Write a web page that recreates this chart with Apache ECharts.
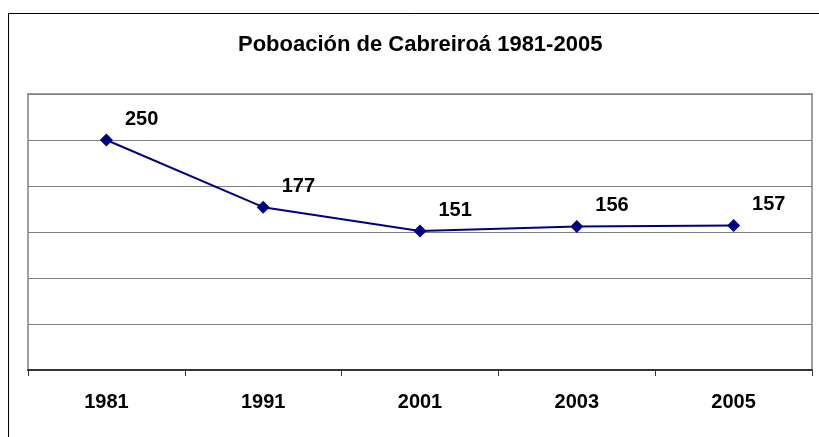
<!DOCTYPE html>
<html>
<head>
<meta charset="utf-8">
<script src="https://cdn.jsdelivr.net/npm/echarts@6/dist/echarts.min.js"></script>
<style>
  html, body { margin: 0; padding: 0; background: #fff; }
  #chart { width: 819px; height: 437px; }
</style>
</head>
<body>
<div id="chart"></div>
<script>
  // anos e poboacion
  var years = ['1981', '1991', '2001', '2003', '2005'];
  var population = [250, 177, 151, 156, 157];

  var font = 'Arial, "Liberation Sans", sans-serif';

  var option = {
    animation: false,
    title: {
      text: 'Poboación de Cabreiroá 1981-2005',
      left: 233,
      top: 29,
      textStyle: { fontFamily: font, fontSize: 22, fontWeight: 'bold', color: '#000' }
    },
    graphic: [{
      type: 'rect',
      shape: { x: 8.5, y: 13.5, width: 900, height: 500 },
      style: { fill: 'none', stroke: '#000', lineWidth: 1 },
      z: -1
    }],
    grid: {
      left: 28, top: 94, right: 7, bottom: 67,
      show: true,
      borderColor: '#a0a0a0',
      borderWidth: 2
    },
    xAxis: {
      type: 'category',
      data: years,
      boundaryGap: true,
      axisLine: { lineStyle: { color: '#333', width: 2 } },
      axisTick: { show: true, inside: false, length: 6, lineStyle: { color: '#333' } },
      axisLabel: { margin: 22, fontFamily: font, fontSize: 20, fontWeight: 'bold', color: '#000' }
    },
    yAxis: {
      type: 'value',
      min: 0, max: 300, interval: 50,
      axisLine: { show: false },
      axisTick: { show: false },
      axisLabel: { show: false },
      splitLine: { lineStyle: { color: '#808080', width: 1 } }
    },
    series: [{
      type: 'line',
      data: population,
      symbol: 'diamond',
      symbolSize: 13,
      lineStyle: { color: '#000080', width: 2 },
      itemStyle: { color: '#000080' },
      label: {
        show: true,
        position: 'right',
        distance: 5,
        offset: [7, -21],
        fontFamily: font, fontSize: 20, fontWeight: 'bold', color: '#000'
      }
    }]
  };

  var chart = echarts.init(document.getElementById('chart'));
  chart.setOption(option);
</script>
</body>
</html>
